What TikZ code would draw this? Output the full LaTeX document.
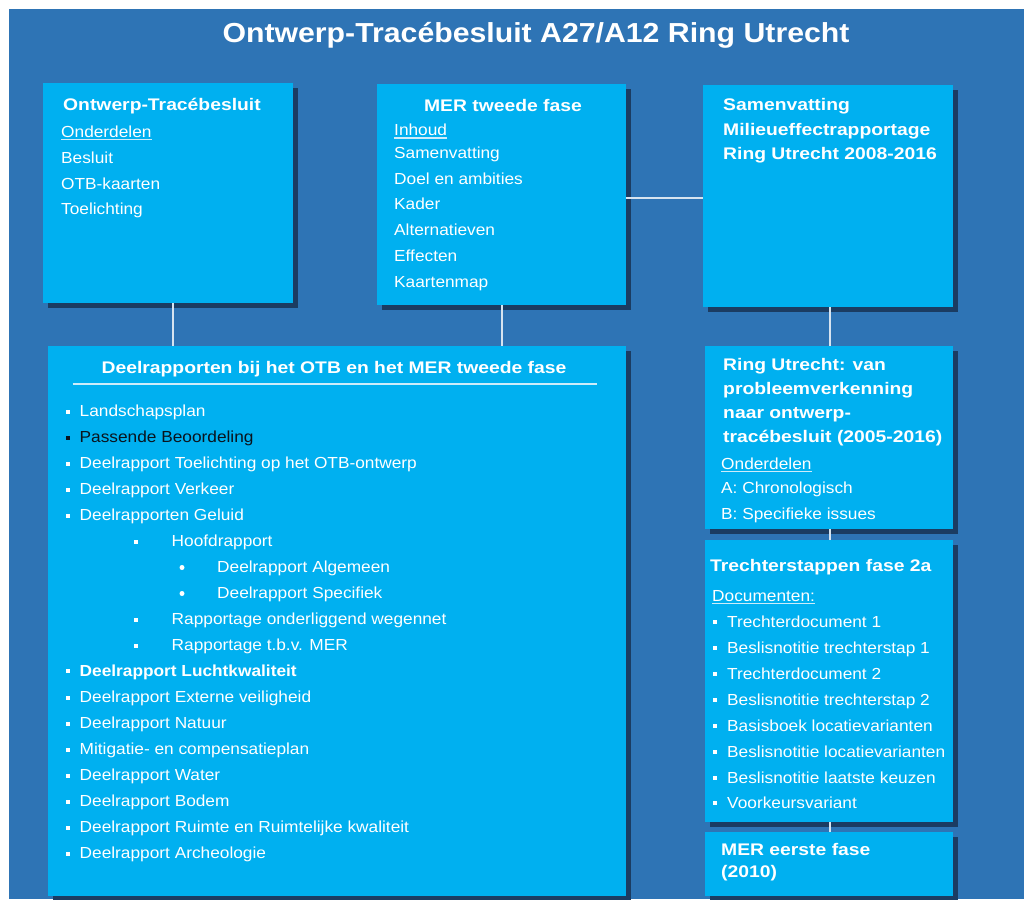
\documentclass[tikz,border=0pt]{standalone}
\usepackage{fontspec}
\setmainfont{Liberation Sans}[FakeStretch=1.08]
\newfontfamily\hdfont{Liberation Sans}[FakeStretch=1.15]
\newfontfamily\ttlfont{Liberation Sans}[FakeStretch=1.1]
\usetikzlibrary{shadows}
\definecolor{bgblue}{RGB}{46,116,181}
\definecolor{lbox}{RGB}{0,176,240}
\definecolor{shd}{RGB}{27,60,98}
\definecolor{connc}{RGB}{215,228,240}
\definecolor{ulc}{RGB}{205,236,250}
\definecolor{darktxt}{RGB}{10,20,30}
\newcommand\bodyfnt{\fontsize{16}{19}\selectfont}
\newcommand\headfnt{\hdfont\bfseries\fontsize{16.8}{20}\selectfont}
\begin{document}
\begin{tikzpicture}[x=1pt,y=-1pt,
  box/.style={fill=lbox, draw=none, anchor=north west, inner sep=0,
    drop shadow={shadow xshift=5pt, shadow yshift=-5pt, fill=shd, opacity=1}},
  txt/.style={anchor=base west, inner sep=0, text=white, font=\bodyfnt},
  hd/.style={anchor=base west, inner sep=0, text=white, font=\headfnt},
  conn/.style={draw=connc, line width=2pt},
  ul/.style={draw=ulc, line width=1.1pt},
  sq/.style={rectangle, fill=white, inner sep=0, minimum size=4pt},
  rdot/.style={circle, fill=white, inner sep=0, minimum size=5pt}]
\useasboundingbox (0,0) rectangle (1024,899);
\fill[white] (0,0) rectangle (1024,899);
\fill[bgblue] (9,9) rectangle (1024,899);

% title
\node[anchor=base, inner sep=0, text=white, font=\ttlfont\bfseries\fontsize{27.5}{32}\selectfont] (title) at (536,43) {Ontwerp-Tracébesluit A27/A12 Ring Utrecht};

% boxes
\node[box, minimum width=250pt, minimum height=220pt] (b1) at (43,83) {};
\node[box, minimum width=249pt, minimum height=221pt] (b2) at (377,84) {};
\node[box, minimum width=250pt, minimum height=222pt] (b3) at (703,85) {};
\node[box, minimum width=578pt, minimum height=550pt] (b4) at (48,346) {};
\node[box, minimum width=248pt, minimum height=183pt] (b5) at (705,346) {};
\node[box, minimum width=248pt, minimum height=282pt] (b6) at (705,540) {};
\node[box, minimum width=248pt, minimum height=64pt] (b7) at (705,832) {};

% connectors
\draw[conn] ([xshift=5pt]b1.south) -- ([xshift=5pt]b1.south |- b4.north);
\draw[conn] (b2.south) -- (b2.south |- b4.north);
\draw[conn] ([yshift=-3.5pt]b2.east) -- ([yshift=-3.5pt]b2.east -| b3.west);
\draw[conn] ([xshift=2pt]b3.south) -- ([xshift=2pt]b3.south |- b5.north);
\draw[conn] ([xshift=1pt]b5.south) -- ([xshift=1pt]b5.south |- b6.north);
\draw[conn] ([xshift=1pt]b6.south) -- ([xshift=1pt]b6.south |- b7.north);

% box 1
\node[hd] (h1) at (63,110) {Ontwerp-Tracébesluit};
\node[txt] (o1) at (61,137) {Onderdelen};
\draw[ul] ([yshift=-2.5pt]o1.base west) -- ([yshift=-2.5pt]o1.base east);
\node[txt] (a1) at (61,163) {Besluit};
\node[txt] (a2) at (61,189) {OTB-kaarten};
\node[txt] (a3) at (61,214.5) {Toelichting};

% box 2
\node[hd, anchor=base] (h2) at (503,111) {MER tweede fase};
\node[txt] (o2) at (394,135.5) {Inhoud};
\draw[ul] ([yshift=-2.5pt]o2.base west) -- ([yshift=-2.5pt]o2.base east);
\node[txt] (m1) at (394,158) {Samenvatting};
\node[txt] (m2) at (394,184) {Doel en ambities};
\node[txt] (m3) at (394,209.5) {Kader};
\node[txt] (m4) at (394,235.5) {Alternatieven};
\node[txt] (m5) at (394,261.5) {Effecten};
\node[txt] (m6) at (394,287) {Kaartenmap};

% box 3
\node[hd] (h3a) at (723,110.5) {Samenvatting};
\node[hd] (h3b) at (723,135) {Milieueffectrapportage};
\node[hd] (h3c) at (723,159) {Ring Utrecht 2008-2016};

% box 4
\node[hd, anchor=base] (h4) at (334,373.5) {Deelrapporten bij het OTB en het MER tweede fase};
\draw[draw=ulc, line width=2pt] (b4.north west) ++(24.5,38) coordinate (u4a) -- (u4a -| 597,0);
\node[sq] (d1b) at (67.5,411.5) {};  \node[txt] (d1) at (79.5,416.5) {Landschapsplan};
\node[sq, fill=darktxt] (d2b) at (67.5,437.5) {};  \node[txt, text=darktxt] (d2) at (79.5,442.5) {Passende Beoordeling};
\node[sq] (d3b) at (67.5,463.5) {};  \node[txt] (d3) at (79.5,468.5) {Deelrapport Toelichting op het OTB-ontwerp};
\node[sq] (d4b) at (67.5,489.5) {};  \node[txt] (d4) at (79.5,494.5) {Deelrapport Verkeer};
\node[sq] (d5b) at (67.5,515.5) {};  \node[txt] (d5) at (79.5,520.5) {Deelrapporten Geluid};
\node[sq] (e1b) at (136,541.5) {};   \node[txt] (e1) at (171.5,546.5) {Hoofdrapport};
\node[rdot] (f1b) at (182,567.5) {}; \node[txt] (f1) at (217,572.5) {Deelrapport Algemeen};
\node[rdot] (f2b) at (182,593.5) {}; \node[txt] (f2) at (217,598.5) {Deelrapport Specifiek};
\node[sq] (e2b) at (136,619.5) {};   \node[txt] (e2) at (171.5,624.5) {Rapportage onderliggend wegennet};
\node[sq] (e3b) at (136,645.5) {};   \node[txt] (e3) at (171.5,650.5) {Rapportage t.b.v. MER};
\node[sq] (d6b) at (67.5,671) {};    \node[txt, font=\bodyfnt\bfseries] (d6) at (79.5,676) {Deelrapport Luchtkwaliteit};
\node[sq] (d7b) at (67.5,697.5) {};  \node[txt] (d7) at (79.5,702.5) {Deelrapport Externe veiligheid};
\node[sq] (d8b) at (67.5,723.5) {};  \node[txt] (d8) at (79.5,728.5) {Deelrapport Natuur};
\node[sq] (d9b) at (67.5,749.5) {};  \node[txt] (d9) at (79.5,754.5) {Mitigatie- en compensatieplan};
\node[sq] (d10b) at (67.5,775.5) {}; \node[txt] (d10) at (79.5,780.5) {Deelrapport Water};
\node[sq] (d11b) at (67.5,801.5) {}; \node[txt] (d11) at (79.5,806.5) {Deelrapport Bodem};
\node[sq] (d12b) at (67.5,827.5) {}; \node[txt] (d12) at (79.5,832.5) {Deelrapport Ruimte en Ruimtelijke kwaliteit};
\node[sq] (d13b) at (67.5,853.5) {}; \node[txt] (d13) at (79.5,858.5) {Deelrapport Archeologie};

% box 5
\node[hd] (h5a) at (723,370) {Ring Utrecht: van};
\node[hd] (h5b) at (723,394) {probleemverkenning};
\node[hd] (h5c) at (723,418) {naar ontwerp-};
\node[hd] (h5d) at (723,442) {tracébesluit (2005-2016)};
\node[txt] (o5) at (721,469) {Onderdelen};
\draw[ul] ([yshift=-2.5pt]o5.base west) -- ([yshift=-2.5pt]o5.base east);
\node[txt] (r1) at (721,493) {A: Chronologisch};
\node[txt] (r2) at (721,519) {B: Specifieke issues};

% box 6
\node[hd] (h6) at (710,571) {Trechterstappen fase 2a};
\node[txt] (o6) at (712,601) {Documenten:};
\draw[ul] ([yshift=-2.5pt]o6.base west) -- ([yshift=-2.5pt]o6.base east);
\node[sq] (t1b) at (715,622) {}; \node[txt] (t1) at (727,627) {Trechterdocument 1};
\node[sq] (t2b) at (715,648) {}; \node[txt] (t2) at (727,653) {Beslisnotitie trechterstap 1};
\node[sq] (t3b) at (715,674) {}; \node[txt] (t3) at (727,679) {Trechterdocument 2};
\node[sq] (t4b) at (715,700) {}; \node[txt] (t4) at (727,705) {Beslisnotitie trechterstap 2};
\node[sq] (t5b) at (715,726) {}; \node[txt] (t5) at (727,731) {Basisboek locatievarianten};
\node[sq] (t6b) at (715,752) {}; \node[txt] (t6) at (727,757) {Beslisnotitie locatievarianten};
\node[sq] (t7b) at (715,778) {}; \node[txt] (t7) at (727,783) {Beslisnotitie laatste keuzen};
\node[sq] (t8b) at (715,803) {}; \node[txt] (t8) at (727,808) {Voorkeursvariant};

% box 7
\node[hd] (h7a) at (721,855) {MER eerste fase};
\node[hd] (h7b) at (721,877.5) {(2010)};
\end{tikzpicture}
\end{document}
